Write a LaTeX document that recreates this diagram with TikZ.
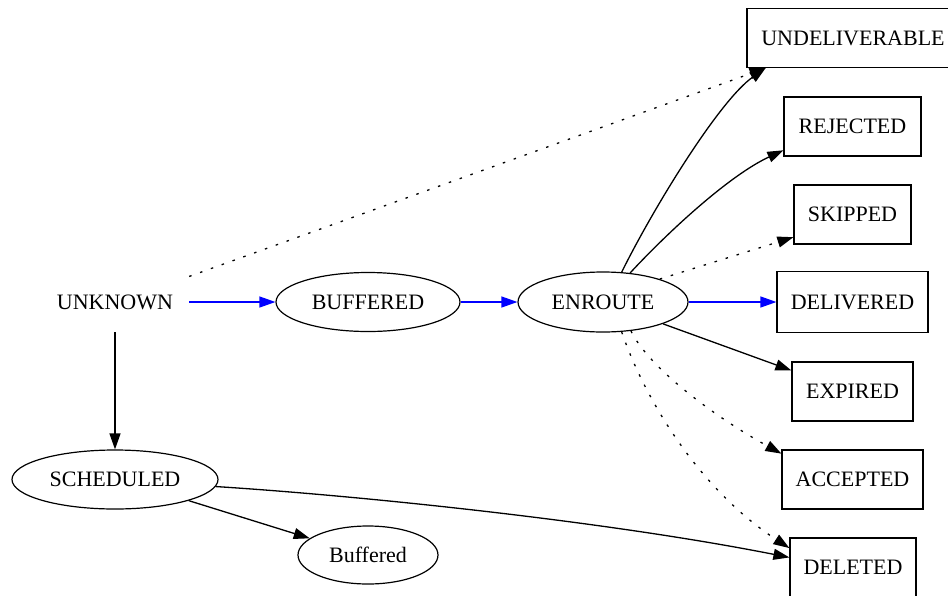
\documentclass[tikz,border=0pt]{standalone}
\usepackage{fontspec}
\setmainfont{Liberation Serif}
\usetikzlibrary{arrows.meta,shapes.geometric}
\begin{document}
\begin{tikzpicture}[x=1pt,y=-1pt,
  every node/.style={font=\fontsize{22}{26}\selectfont, inner sep=0pt},
  ell/.style={draw, ellipse, line width=1.2pt, minimum height=59pt},
  box/.style={draw, rectangle, line width=1.2pt, minimum height=59pt},
  plainnode/.style={rectangle, minimum width=148pt, minimum height=60pt},
  edge/.style={line width=1.3pt, -{Triangle[length=16pt,width=11pt]}},
  blueedge/.style={edge, blue},
  dotedge/.style={edge, dash pattern=on 2.5pt off 9pt}]
\useasboundingbox (0,0) rectangle (948,595);
\clip (0,0) rectangle (948,595);
\node[plainnode] (unk) at (115,302) {UNKNOWN};
\node[ell, minimum width=184pt] (buf) at (368,302) {BUFFERED};
\node[ell, minimum width=170pt, minimum height=60pt] (enr) at (603,302) {ENROUTE};
\node[box, minimum width=212pt] (undel) at (853,38) {UNDELIVERABLE};
\node[box, minimum width=137pt] (rej) at (852.5,126.5) {REJECTED};
\node[box, minimum width=117pt] (skip) at (852.5,214.5) {SKIPPED};
\node[box, minimum width=151pt, minimum height=61pt] (deliv) at (852.5,302) {DELIVERED};
\node[box, minimum width=121pt] (exp) at (852.5,391.5) {EXPIRED};
\node[box, minimum width=141pt] (acc) at (852.5,479.5) {ACCEPTED};
\node[box, minimum width=126pt] (del) at (853,567.5) {DELETED};
\node[ell, minimum width=206pt] (sch) at (115,479.5) {SCHEDULED};
\node[ell, minimum width=140pt, minimum height=58pt] (bufd) at (368,555) {Buffered};
\draw[blueedge] (unk) -- (buf);
\draw[blueedge] (buf) -- (enr);
\draw[blueedge] (enr) -- (deliv);
\draw[edge] (unk) -- (sch);
\draw[dotedge] (unk.19) -- (undel.199);
\draw[edge] (enr.58) .. controls (655,205) and (720,100) .. (undel.199);
\draw[edge] (enr.47) .. controls (670,230) and (730,175) .. (rej.199);
\draw[dotedge] (enr.22) -- (skip.201);
\draw[edge] (enr.-20) -- (exp.161);
\draw[dotedge] (enr.-46) .. controls (650,370) and (720,420) .. (acc.160);
\draw[dotedge] (enr.-58) .. controls (645,400) and (700,490) .. (del.163);
\draw[edge] (sch.-4) .. controls (350,495) and (600,520) .. (del.171);
\draw[edge] (sch.-16) -- (bufd.164);
\end{tikzpicture}
\end{document}
